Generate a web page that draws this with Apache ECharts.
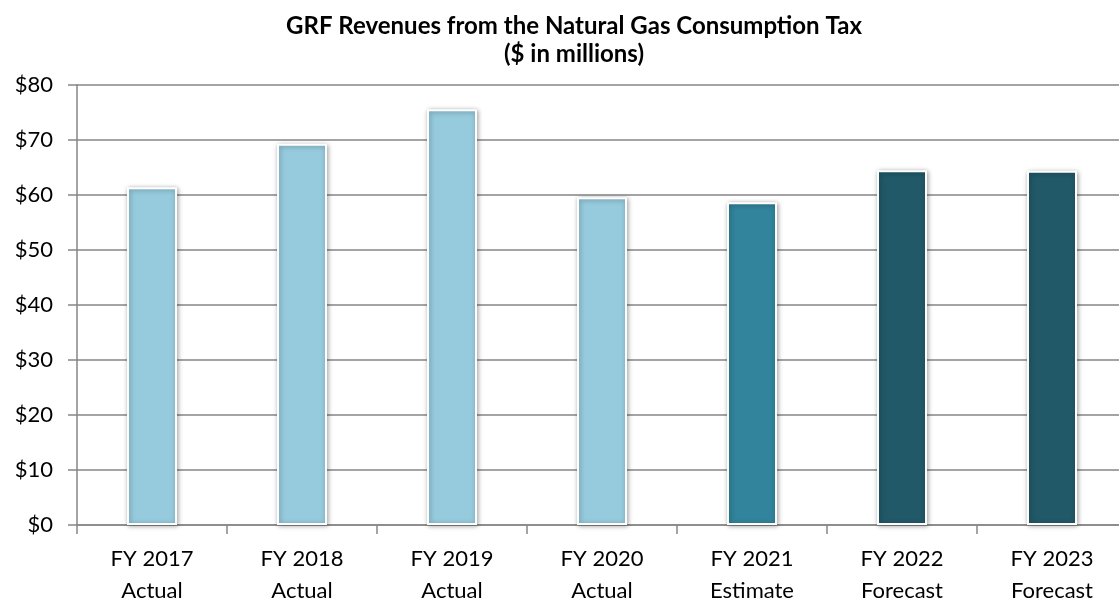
<!DOCTYPE html>
<html><head><meta charset="utf-8">
<script src="https://cdn.jsdelivr.net/npm/echarts@6/dist/echarts.min.js"></script>
<style>html,body{margin:0;padding:0;background:#fff}#c{width:1119px;height:602px}</style>
</head><body><div id="c"></div>
<script>
const categories = ["FY 2017\nActual","FY 2018\nActual","FY 2019\nActual","FY 2020\nActual","FY 2021\nEstimate","FY 2022\nForecast","FY 2023\nForecast"];
const values = [61.4, 69.3, 75.6, 59.6, 58.7, 64.5, 64.4];
const barColors = ["#96CBDD","#96CBDD","#96CBDD","#96CBDD","#31849B","#215968","#215968"];
const yTicks = [0,10,20,30,40,50,60,70,80];

const chart = echarts.init(document.getElementById('c'), null, {renderer:'canvas'});
const font = "Lato, 'Open Sans', sans-serif";
chart.setOption({
  animation:false,
  title:{text:"GRF Revenues from the Natural Gas Consumption Tax\n($ in millions)", left:569, textAlign:'center', top:7,
    textStyle:{fontFamily:font, fontWeight:'bold', fontSize:24, color:'#000', lineHeight:28}},
  grid:{left:77, top:85, width:1050, height:440, outerBoundsMode:'none', containLabel:false},
  xAxis:{type:'category', data:categories,
    axisLine:{lineStyle:{color:'#868686', width:1.5}},
    axisTick:{show:true, length:9, lineStyle:{color:'#868686', width:1.5}},
    axisLabel:{fontFamily:font, fontSize:22, color:'#000', lineHeight:32, margin:18}},
  yAxis:{type:'value', min:yTicks[0], max:yTicks[yTicks.length-1], interval:10,
    axisLine:{show:true, lineStyle:{color:'#868686', width:1.5}},
    axisTick:{show:true, length:9, lineStyle:{color:'#868686', width:1.5}},
    splitLine:{lineStyle:{color:'#868686', width:1.5}},
    axisLabel:{fontFamily:font, fontSize:22, color:'#000', margin:24, formatter:v=>'$'+v}},
  series:[{type:'bar', barWidth:50,
    data: values.map((v,i)=>({value:v, itemStyle:{color:barColors[i]}})),
    itemStyle:{borderColor:'#fff', borderWidth:2, shadowBlur:5, shadowColor:'rgba(0,0,0,0.35)', shadowOffsetX:1, shadowOffsetY:1}}]
});
</script></body></html>
